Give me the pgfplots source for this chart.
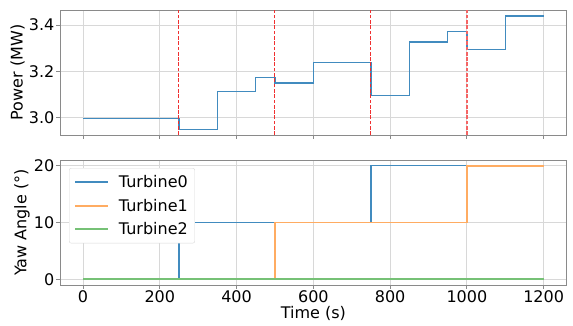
\documentclass[border=0pt]{standalone}
\usepackage{fontspec}
\setmainfont{DejaVu Sans}
\usepackage{pgfplots}
\pgfplotsset{compat=1.18}
\definecolor{tblue}{HTML}{1F77B4}
\definecolor{torange}{HTML}{FF7F0E}
\definecolor{tgreen}{HTML}{2CA02C}
\definecolor{framegray}{HTML}{8A8A8A}
\definecolor{gridgray}{HTML}{D8D8D8}
\definecolor{vred}{HTML}{F03030}
\colorlet{lblue}{tblue!85!white}
\colorlet{lorange}{torange!65!white}
\colorlet{lgreen}{tgreen!65!white}
\begin{document}
\begin{tikzpicture}
\path[use as bounding box] (0,0) rectangle (573pt,325pt);
\pgfplotsset{
 myax/.style={
  scale only axis, width=506.7pt, height=125pt,
  xmin=-60, xmax=1260,
  xtick={0,200,...,1200},
  grid=major, major grid style={gridgray, line width=0.8pt},
  axis line style={framegray, line width=0.9pt},
  tick style={framegray, line width=0.8pt},
  tick align=outside, major tick length=3.5pt,
  xtick pos=bottom, ytick pos=left,
  font=\fontsize{16}{19}\selectfont,
  /pgf/number format/assume math mode=true,
  /pgf/number format/1000 sep={},
  xticklabel style={inner sep=2pt},
  yticklabel style={inner sep=2pt},
  ylabel style={inner sep=2pt},
  xlabel style={inner sep=1pt},
 }
}
\begin{axis}[myax, at={(60pt,190pt)}, anchor=south west,
  ymin=2.9255, ymax=3.4645, ytick={3.0,3.2,3.4},
  yticklabel style={/pgf/number format/.cd, fixed, fixed zerofill, precision=1},
  xticklabels={}, ylabel={Power (MW)}]
\addplot[lblue, line width=1.3pt, const plot mark left] coordinates {
 (0,2.998) (250,2.950) (350,3.113) (450,3.173) (500,3.150) (600,3.237)
 (750,3.096) (850,3.327) (950,3.373) (1000,3.293) (1100,3.439) (1200,3.439)};
\addplot[vred, line width=1pt, dash pattern=on 3.7pt off 1.6pt] coordinates {(250,2.9255) (250,3.4645)};
\addplot[vred, line width=1pt, dash pattern=on 3.7pt off 1.6pt] coordinates {(500,2.9255) (500,3.4645)};
\addplot[vred, line width=1pt, dash pattern=on 3.7pt off 1.6pt] coordinates {(750,2.9255) (750,3.4645)};
\addplot[vred!75!white, line width=1.5pt, dash pattern=on 3.7pt off 1.6pt] coordinates {(1000,2.9255) (1000,3.4645)};
\end{axis}
\begin{axis}[myax, at={(60pt,40pt)}, anchor=south west,
  ymin=-1, ymax=21, ytick={0,10,20},
  xlabel={Time (s)}, ylabel={Yaw Angle (°)},
  legend cell align=left,
  legend style={at={(axis description cs:0.0178,0.936)}, anchor=north west,
    draw=gridgray, rounded corners=2pt, fill=white,
    font=\fontsize{16}{19}\selectfont, row sep=6pt, column sep=8pt,
    inner xsep=5pt, inner ysep=5pt},
  legend image code/.code={\draw[#1] (0pt,0pt) -- (33pt,0pt);}]
\addplot[lblue, line width=1.3pt, const plot mark left] coordinates {
 (0,0) (250,10) (750,20) (1200,20)};
\addlegendentry{Turbine0}
\addplot[lorange, line width=1.7pt, const plot mark left] coordinates {
 (0,0) (500,10) (1000,20) (1200,20)};
\addlegendentry{Turbine1}
\addplot[lgreen, line width=1.7pt, const plot mark left] coordinates {
 (0,0) (1200,0)};
\addlegendentry{Turbine2}
\end{axis}
\end{tikzpicture}
\end{document}
